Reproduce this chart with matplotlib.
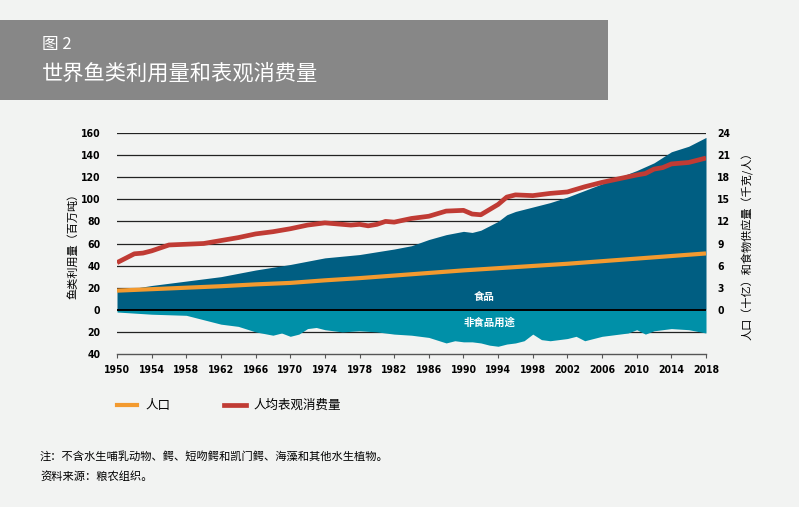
import matplotlib.pyplot as plt
from matplotlib.patches import Rectangle

plt.rcParams["font.family"] = ["Noto Sans CJK SC", "DejaVu Sans"]

# fish utilization, million tonnes
food_years = [1950, 1954, 1958, 1962, 1966, 1970, 1974, 1978, 1982, 1984, 1986, 1988,
              1990, 1991, 1992, 1993, 1994, 1995, 1996, 1998, 2000, 2002, 2004, 2006,
              2008, 2010, 2012, 2014, 2016, 2018]
food = [17, 22, 26, 30, 36, 41, 47, 50, 55, 58, 63.6, 68,
        71, 70, 72, 76, 80, 86, 89, 93, 97, 102, 108, 114,
        120, 126, 133, 143, 148, 156]

nonfood_years = [1950, 1954, 1958, 1960, 1962, 1964, 1966, 1968, 1969, 1970, 1971, 1972,
                 1973, 1974, 1976, 1978, 1980, 1982, 1984, 1986, 1988, 1989, 1990, 1991,
                 1992, 1993, 1994, 1995, 1996, 1997, 1998, 1999, 2000, 2001, 2002, 2003,
                 2004, 2005, 2006, 2007, 2008, 2009, 2010, 2011, 2012, 2013, 2014, 2016, 2018]
nonfood = [2, 4, 5, 9, 13, 15, 20, 23, 21, 24, 22, 17,
           16, 18, 20, 19, 20, 22, 23, 25, 30, 28, 29, 29,
           30, 32, 33, 31, 30, 28, 22, 27, 28, 27, 26, 24,
           28, 26, 24, 23, 22, 21, 18, 22, 19, 18, 17, 18, 21]

# population, billions
pop_years = [1950, 1954, 1958, 1962, 1966, 1970, 1974, 1978, 1982, 1986, 1990, 1994,
             1998, 2002, 2006, 2010, 2014, 2018]
population = [2.6, 2.8, 3.0, 3.2, 3.45, 3.65, 4.0, 4.3, 4.65, 5.0, 5.35, 5.65,
              5.95, 6.25, 6.6, 6.95, 7.3, 7.65]

# apparent consumption per capita, kg
cons_years = [1950, 1951, 1952, 1953, 1954, 1955, 1956, 1958, 1960, 1962, 1964, 1966,
              1968, 1970, 1972, 1974, 1976, 1977, 1978, 1979, 1980, 1981, 1982, 1984,
              1986, 1988, 1990, 1991, 1992, 1993, 1994, 1995, 1996, 1998, 2000, 2002,
              2004, 2006, 2008, 2010, 2011, 2012, 2013, 2014, 2016, 2018]
consumption = [6.4, 7.0, 7.6, 7.7, 8.0, 8.4, 8.8, 8.9, 9.0, 9.4, 9.8, 10.3,
               10.6, 11.0, 11.5, 11.8, 11.6, 11.5, 11.6, 11.4, 11.6, 12.0, 11.9, 12.4,
               12.7, 13.4, 13.5, 13.0, 12.9, 13.6, 14.3, 15.3, 15.6, 15.5, 15.8, 16.0,
               16.7, 17.3, 17.8, 18.3, 18.5, 19.1, 19.3, 19.8, 20.0, 20.6]

year_ticks = list(range(1950, 2019, 4))
left_ticks = list(range(-40, 161, 20))
left_labels = [str(abs(v)) for v in left_ticks]
right_ticks = list(range(0, 25, 3))

bg = "#f2f3f2"
c_food = "#005e82"
c_nonfood = "#0090a8"
c_pop = "#f39a2f"
c_cons = "#c03b34"
num_font = dict(family="DejaVu Sans", fontweight="bold", fontstretch="condensed")

fig = plt.figure(figsize=(7.99, 5.07), dpi=100, facecolor=bg)

# title banner
fig.patches.append(Rectangle((0, 1 - 100 / 507), 608 / 799, 80 / 507,
                             transform=fig.transFigure, facecolor="#878787",
                             edgecolor="none"))
fig.text(42 / 799, 1 - 45 / 507, "图 2", color="white", fontsize=12, va="center")
fig.text(42 / 799, 1 - 74 / 507, "世界鱼类利用量和表观消费量", color="white",
         fontsize=15.3, va="center")

ax = fig.add_axes([117 / 799, 1 - 354 / 507, 589 / 799, 221 / 507])
ax.set_facecolor(bg)
ax.set_xlim(1950, 2018)
ax.set_ylim(-40, 160)

for v in left_ticks:
    if v not in (0, -40):
        ax.axhline(v, color="#222222", linewidth=0.9, zorder=1)

ax.fill_between(food_years, 0, food, color=c_food, linewidth=0, zorder=2)
ax.fill_between(nonfood_years, [-v for v in nonfood], 0, color=c_nonfood,
                linewidth=0, zorder=2)
ax.axhline(0, color="black", linewidth=1.4, zorder=3)

ax.text(1992.4, 12, "食品", color="white", fontsize=7.5, fontweight="bold",
        ha="center", va="center", zorder=4)
ax.text(1993, -12, "非食品用途", color="white", fontsize=7.5, fontweight="bold",
        ha="center", va="center", zorder=4)

for s in ["top", "left", "right"]:
    ax.spines[s].set_visible(False)
ax.spines["bottom"].set_color("#555555")
ax.spines["bottom"].set_linewidth(1.0)

ax.set_xticks(year_ticks)
ax.set_xticklabels([str(y) for y in year_ticks], fontsize=7.5, **num_font)
ax.tick_params(axis="x", direction="out", length=3, color="#555555", pad=5)
ax.set_yticks(left_ticks)
ax.set_yticklabels(left_labels, fontsize=7.5, **num_font)
ax.tick_params(axis="y", length=0, pad=12)
ax.set_ylabel("鱼类利用量（百万吨）", fontsize=8, labelpad=2)

ax2 = ax.twinx()
ax2.set_ylim(-6, 24)
for s in ["top", "left", "right", "bottom"]:
    ax2.spines[s].set_visible(False)
ax2.plot(pop_years, population, color=c_pop, linewidth=3, solid_capstyle="butt",
         zorder=5)
ax2.plot(cons_years, consumption, color=c_cons, linewidth=3.4, solid_capstyle="butt",
         zorder=6)
ax2.set_yticks(right_ticks)
ax2.set_yticklabels([str(v) for v in right_ticks], fontsize=7.5, **num_font)
ax2.tick_params(axis="y", length=0, pad=8)
ax2.set_ylabel("人口（十亿）和食物供应量（千克/人）", fontsize=8, labelpad=8)

# legend
fig.lines.append(plt.Line2D([117 / 799, 137 / 799], [1 - 405 / 507] * 2,
                            transform=fig.transFigure, color=c_pop, linewidth=3))
fig.text(145 / 799, 1 - 405 / 507, "人口", fontsize=9, va="center")
fig.lines.append(plt.Line2D([224 / 799, 246 / 799], [1 - 405 / 507] * 2,
                            transform=fig.transFigure, color=c_cons, linewidth=3.4))
fig.text(253 / 799, 1 - 405 / 507, "人均表观消费量", fontsize=9, va="center")

# notes
fig.text(40 / 799, 1 - 456 / 507, "注：不含水生哺乳动物、鳄、短吻鳄和凯门鳄、海藻和其他水生植物。",
         fontsize=8.1, va="center")
fig.text(40 / 799, 1 - 476 / 507, "资料来源：粮农组织。", fontsize=8.1, va="center")

fig.savefig("out.png", dpi=100, facecolor=bg)
